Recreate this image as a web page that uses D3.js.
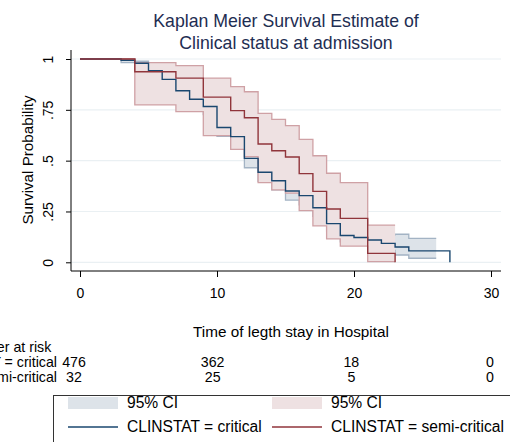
<!DOCTYPE html>
<html>
<head>
<meta charset="utf-8">
<script src="https://cdn.jsdelivr.net/npm/d3@7"></script>
<style>
  html, body { margin: 0; padding: 0; background: #fff; }
  svg { display: block; font-family: "Liberation Sans", Arial, Helvetica, sans-serif; }
</style>
</head>
<body>
<svg id="chart" width="510" height="442"></svg>
<script>
// ---- Data ----
const titleLines = ["Kaplan Meier Survival Estimate of", "Clinical status at admission"];
const xTicks = [0, 10, 20, 30];
const yTicks = [0, 0.25, 0.5, 0.75, 1];
const yTickLabels = ["0", ".25", ".5", ".75", "1"];

// CLINSTAT = critical
const critTime = [0, 3, 4, 5, 6, 7, 8, 9, 10, 11, 12, 13, 14, 15, 16, 17, 18, 19, 20, 21, 22, 23, 24, 27];
const critSurv = [1, 0.994, 0.979, 0.942, 0.900, 0.844, 0.802, 0.766, 0.663, 0.618, 0.511, 0.443, 0.401, 0.351, 0.328, 0.268, 0.190, 0.132, 0.122, 0.110, 0.093, 0.075, 0.056, 0];
const critCITime = [0, 3, 4, 5, 6, 7, 8, 9, 10, 11, 12, 13, 14, 15, 16, 17, 18, 19, 20, 21, 22, 23, 24, 26];
const critLower = [1, 0.982, 0.962, 0.920, 0.872, 0.810, 0.765, 0.726, 0.619, 0.573, 0.465, 0.398, 0.356, 0.306, 0.283, 0.226, 0.153, 0.100, 0.091, 0.078, 0.058, 0.036, 0.020, 0.020];
const critUpper = [1, 0.998, 0.989, 0.958, 0.921, 0.870, 0.832, 0.800, 0.702, 0.660, 0.555, 0.488, 0.445, 0.398, 0.373, 0.313, 0.233, 0.172, 0.160, 0.148, 0.135, 0.138, 0.118, 0.118];

// CLINSTAT = semi-critical
const semiTime = [0, 4, 7, 9, 11, 12, 13, 14, 15, 16, 17, 18, 19, 21, 23];
const semiSurv = [1, 0.9375, 0.906, 0.8125, 0.746, 0.711, 0.582, 0.549, 0.518, 0.436, 0.349, 0.262, 0.216, 0.044, 0];
const semiLower = [1, 0.774, 0.741, 0.623, 0.555, 0.520, 0.392, 0.356, 0.340, 0.254, 0.179, 0.115, 0.080, 0.003, 0.003];
const semiUpper = [1, 0.982, 0.967, 0.906, 0.864, 0.839, 0.733, 0.703, 0.672, 0.605, 0.524, 0.438, 0.392, 0.183, 0.183];

// Number at risk
const riskTimes = [0, 10, 20, 30];
const riskGroups = ["CLINSTAT = critical", "CLINSTAT = semi-critical"];
const riskCritical = [476, 362, 18, 0];
const riskSemi = [32, 25, 5, 0];

const legendLabels = ["95% CI", "95% CI", "CLINSTAT = critical", "CLINSTAT = semi-critical"];

// ---- Styles ----
const navy = "#1a476f", maroon = "#90353b";
const navyFill = "#dde3e9", maroonFill = "#eee1e2";
const navyEdge = "#a3b3c4", maroonEdge = "#cfa1a5";
const titleColor = "#1e2d52";

const svg = d3.select("#chart");
const x = d3.scaleLinear().domain([0, 30]).range([80, 491]);
const y = d3.scaleLinear().domain([0, 1]).range([262.3, 59]);
const plotL = 71, plotR = 501, plotT = 50, plotB = 271;

// grid
svg.append("g").selectAll("line").data(yTicks).join("line")
  .attr("x1", plotL).attr("x2", plotR)
  .attr("y1", d => y(d)).attr("y2", d => y(d))
  .attr("stroke", "#eaf0f3").attr("stroke-width", 1.2);

// title
svg.append("g").selectAll("text").data(titleLines).join("text")
  .attr("x", 286).attr("y", (d, i) => 27 + i * 22)
  .attr("text-anchor", "middle").attr("fill", titleColor)
  .attr("font-size", 17.7).text(d => d);

const zip = (ts, a, b) => ts.map((t, i) => ({ t, lo: a[i], hi: b ? b[i] : a[i] }));
const area = d3.area().curve(d3.curveStepAfter).x(d => x(d.t)).y0(d => y(d.lo)).y1(d => y(d.hi));
const lineLo = d3.line().curve(d3.curveStepAfter).x(d => x(d.t)).y(d => y(d.lo));
const lineHi = d3.line().curve(d3.curveStepAfter).x(d => x(d.t)).y(d => y(d.hi));

function band(ts, lo, hi, fill, edge) {
  const d = zip(ts, lo, hi);
  svg.append("path").attr("d", area(d)).attr("fill", fill);
  svg.append("path").attr("d", lineLo(d)).attr("fill", "none").attr("stroke", edge).attr("stroke-width", 1.3);
  svg.append("path").attr("d", lineHi(d)).attr("fill", "none").attr("stroke", edge).attr("stroke-width", 1.3);
}
band(critCITime, critLower, critUpper, navyFill, navyEdge);
band(semiTime, semiLower, semiUpper, maroonFill, maroonEdge);

svg.append("path").attr("d", lineLo(zip(critTime, critSurv))).attr("fill", "none")
  .attr("stroke", navy).attr("stroke-width", 1.4);
svg.append("path").attr("d", lineLo(zip(semiTime, semiSurv))).attr("fill", "none")
  .attr("stroke", maroon).attr("stroke-width", 1.4);

// axes
const yAxis = svg.append("g").attr("transform", `translate(${plotL},0)`)
  .call(d3.axisLeft(y).tickValues(yTicks).tickSize(5).tickFormat((d, i) => yTickLabels[i]));
yAxis.select(".domain").attr("d", `M0,${plotT}V${plotB}`).attr("stroke", "#000");
yAxis.selectAll(".tick line").attr("stroke", "#000");
yAxis.selectAll(".tick text").attr("font-size", 14).attr("fill", "#000")
  .attr("font-family", null)
  .attr("text-anchor", "middle").attr("dy", null)
  .attr("x", null)
  .attr("transform", "translate(-18,0) rotate(-90)")
  .attr("y", 0);

const xAxis = svg.append("g").attr("transform", `translate(0,${plotB})`)
  .call(d3.axisBottom(x).tickValues(xTicks).tickSize(6).tickFormat(d3.format("d")));
xAxis.select(".domain").attr("d", `M${plotL},0H${plotR}`).attr("stroke", "#000");
xAxis.selectAll(".tick line").attr("stroke", "#000");
xAxis.selectAll(".tick text").attr("font-size", 14).attr("fill", "#000")
  .attr("font-family", null).attr("dy", null).attr("y", 27);

// axis titles
svg.append("text").attr("transform", "translate(33,160) rotate(-90)")
  .attr("text-anchor", "middle").attr("font-size", 15.2).text("Survival Probability");
svg.append("text").attr("x", 291).attr("y", 337).attr("text-anchor", "middle")
  .attr("font-size", 15.3).text("Time of legth stay in Hospital");

// risk table
const rx = d3.scaleLinear().domain([0, 30]).range([74, 490]);
svg.append("text").attr("x", -41).attr("y", 352).attr("font-size", 14.2).text("Number at risk");
[riskCritical, riskSemi].forEach((row, r) => {
  const yy = 367 + r * 14.5;
  svg.append("text").attr("x", 57).attr("y", yy).attr("text-anchor", "end")
    .attr("font-size", 14.2).text(riskGroups[r]);
  svg.append("g").selectAll("text").data(row).join("text")
    .attr("x", (d, i) => rx(riskTimes[i])).attr("y", yy)
    .attr("text-anchor", "middle").attr("font-size", 14.2).text(d => d);
});

// legend
const lg = svg.append("g");
lg.append("rect").attr("x", 53.5).attr("y", 395.5).attr("width", 480).attr("height", 60)
  .attr("fill", "#fff").attr("stroke", "#333").attr("stroke-width", 1);
const cols = [68, 272];
[navyFill, maroonFill].forEach((c, i) => {
  lg.append("rect").attr("x", cols[i]).attr("y", 397).attr("width", 50).attr("height", 12).attr("fill", c);
  lg.append("text").attr("x", cols[i] + 59).attr("y", 408).attr("font-size", 15.6).text(legendLabels[i]);
});
[navy, maroon].forEach((c, i) => {
  lg.append("line").attr("x1", cols[i]).attr("x2", cols[i] + 50).attr("y1", 427).attr("y2", 427)
    .attr("stroke", c).attr("stroke-width", 1.4);
  lg.append("text").attr("x", cols[i] + 59).attr("y", 432).attr("font-size", 15.6).text(legendLabels[i + 2]);
});
</script>
</body>
</html>
